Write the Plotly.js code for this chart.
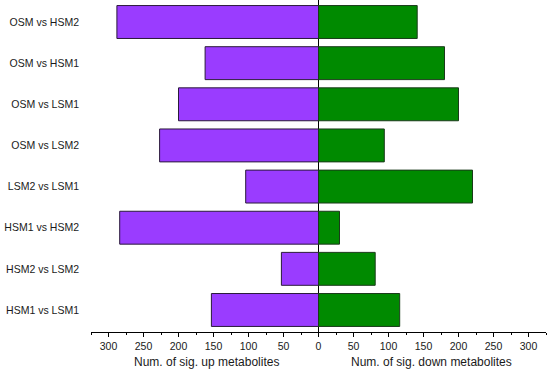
<!DOCTYPE html>
<html>
<head>
<meta charset="utf-8">
<script src="https://cdn.plot.ly/plotly-3.0.1.min.js"></script>
<style>html,body{margin:0;padding:0;background:#fff;}#chart{width:550px;height:371px;}</style>
</head>
<body>
<div id="chart"></div>
<script>
const categories = ["OSM vs HSM2","OSM vs HSM1","OSM vs LSM1","OSM vs LSM2","LSM2 vs LSM1","HSM1 vs HSM2","HSM2 vs LSM2","HSM1 vs LSM1"];
const upValues = [288, 162, 200, 227, 104, 284, 53, 153];
const downValues = [141, 180, 200, 94, 220, 30, 81, 116];
const tickValues = [-300,-250,-200,-150,-100,-50,0,50,100,150,200,250,300];
const tickLabels = tickValues.map(v => String(Math.abs(v)));

const font = "Liberation Sans, Arial, sans-serif";
const traces = [
  {type:'bar', orientation:'h', y:categories, x:upValues.map(v=>-v), name:'up',
   marker:{color:'#9a3cff', line:{color:'#2a1a3a', width:1}}, hoverinfo:'skip'},
  {type:'bar', orientation:'h', y:categories, x:downValues, name:'down',
   marker:{color:'#008a00', line:{color:'#1a3a1a', width:1}}, hoverinfo:'skip'}
];
const layout = {
  width:550, height:371,
  margin:{l:91, r:4, t:0, b:39},
  paper_bgcolor:'#fff', plot_bgcolor:'#fff',
  barmode:'relative', bargap:0.2, showlegend:false,
  font:{family:font, size:10, color:'#1a1a1a'},
  xaxis:{range:[-325,325], tickvals:tickValues, ticktext:tickLabels,
    showgrid:false, showline:true, linecolor:'#000', linewidth:1,
    ticks:'outside', ticklen:4, tickcolor:'#000', tickfont:{size:10.5},
    minor:{dtick:25, ticks:'outside', ticklen:2, tickcolor:'#000', showgrid:false},
    zeroline:true, zerolinecolor:'#000', zerolinewidth:1.5, fixedrange:true},
  yaxis:{type:'category', categoryarray:categories, range:[7.535,-0.535],
    showgrid:false, showline:false, zeroline:false, ticks:'', ticklabelstandoff:11,
    tickfont:{size:10.5}, fixedrange:true},
  annotations:[
    {text:'Num. of sig. up metabolites', xref:'x', yref:'paper', x:-160, y:0, yshift:-30,
     xanchor:'center', yanchor:'middle', showarrow:false, font:{size:12}},
    {text:'Num. of sig. down metabolites', xref:'x', yref:'paper', x:162, y:0, yshift:-30,
     xanchor:'center', yanchor:'middle', showarrow:false, font:{size:12}}
  ]
};
Plotly.newPlot('chart', traces, layout, {displayModeBar:false, staticPlot:true});
</script>
</body>
</html>
